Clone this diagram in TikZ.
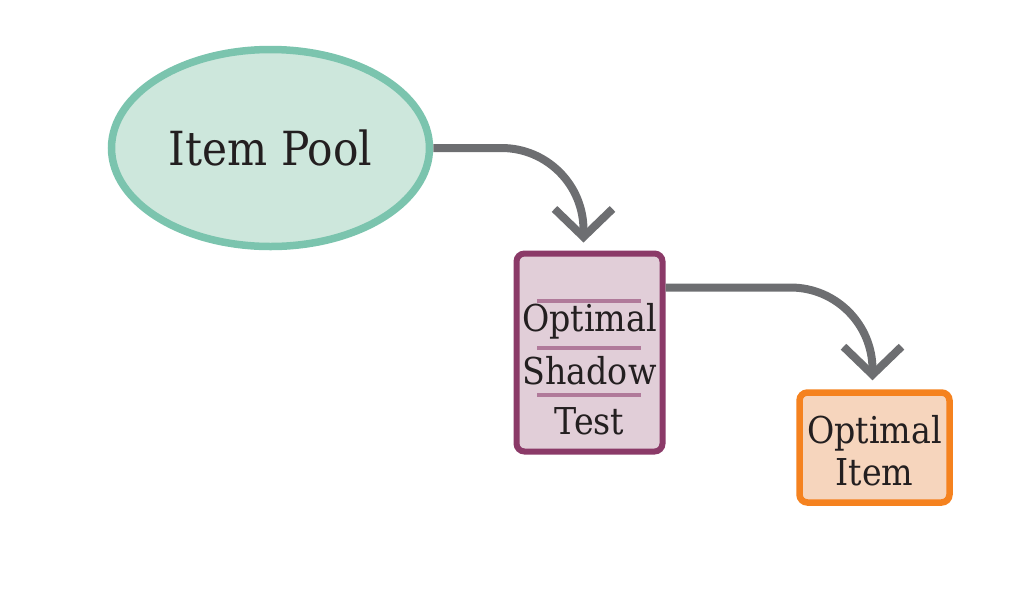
\documentclass[tikz,border=0pt]{standalone}
\usepackage{fontspec}
\setmainfont{DejaVu Serif Condensed}
\usetikzlibrary{arrows.meta,shapes.geometric}
\definecolor{poolfill}{HTML}{CDE7DC}
\definecolor{pooldraw}{HTML}{7BC4AE}
\definecolor{shfill}{HTML}{E1CED8}
\definecolor{shdraw}{HTML}{8B3A68}
\definecolor{shline}{HTML}{B07A9A}
\definecolor{itfill}{HTML}{F6D5BD}
\definecolor{itdraw}{HTML}{F5821F}
\definecolor{conn}{HTML}{6D6E71}
\definecolor{txt}{HTML}{231F20}
\tikzset{
  pool/.style={ellipse, draw=pooldraw, fill=poolfill, line width=7.5pt, minimum width=318pt, minimum height=197pt, inner sep=0pt, text=txt, font=\fontsize{47}{50}\selectfont},
  boxstyle/.style={rounded corners=8pt, line width=6pt, inner sep=0pt, text=txt, align=center},
  boxtext/.style={text=txt, font=\fontsize{37}{42}\selectfont, align=center},
  flow/.style={draw=conn, line width=8pt, rounded corners=82pt, -{Straight Barb[length=28pt,width=58pt]}},
  sep/.style={draw=shline, line width=3.5pt},
}
\begin{document}
\begin{tikzpicture}[x=1pt,y=-1pt]
\useasboundingbox (0,0) rectangle (1030,598);
\node[pool] (pool) at (270.5,148) {Item Pool};
\node[boxstyle, draw=shdraw, fill=shfill, minimum width=146pt, minimum height=198pt] (shadow) at (589.5,352.5) {};
\node[boxstyle, draw=itdraw, fill=itfill, line width=6.5pt, minimum width=150pt, minimum height=110pt] (item) at (874.5,447.5) {};
\node[boxtext] (it) at (874.5,451) {Optimal\\Item};
\node[boxtext] (t1) at (589.5,321) {Optimal};
\node[boxtext] (t2) at (589.5,371) {Shadow};
\node[boxtext] (t3) at (589.5,421) {Test};
\coordinate (l1a) at (537,301); \coordinate (l1b) at (641,301);
\coordinate (l2a) at (537,348); \coordinate (l2b) at (641,348);
\coordinate (l3a) at (537,395); \coordinate (l3b) at (641,395);
\draw[sep] (l1a) -- (l1b);
\draw[sep] (l2a) -- (l2b);
\draw[sep] (l3a) -- (l3b);
\coordinate (in1) at ([xshift=-6pt,yshift=8pt]shadow.north);
\coordinate (out2) at ([yshift=65pt]shadow.east);
\coordinate (in2) at ([xshift=-2pt,yshift=9pt]item.north);
\draw[flow] (pool.east) -| (in1);
\draw[flow] (out2) -| (in2);
\end{tikzpicture}
\end{document}
